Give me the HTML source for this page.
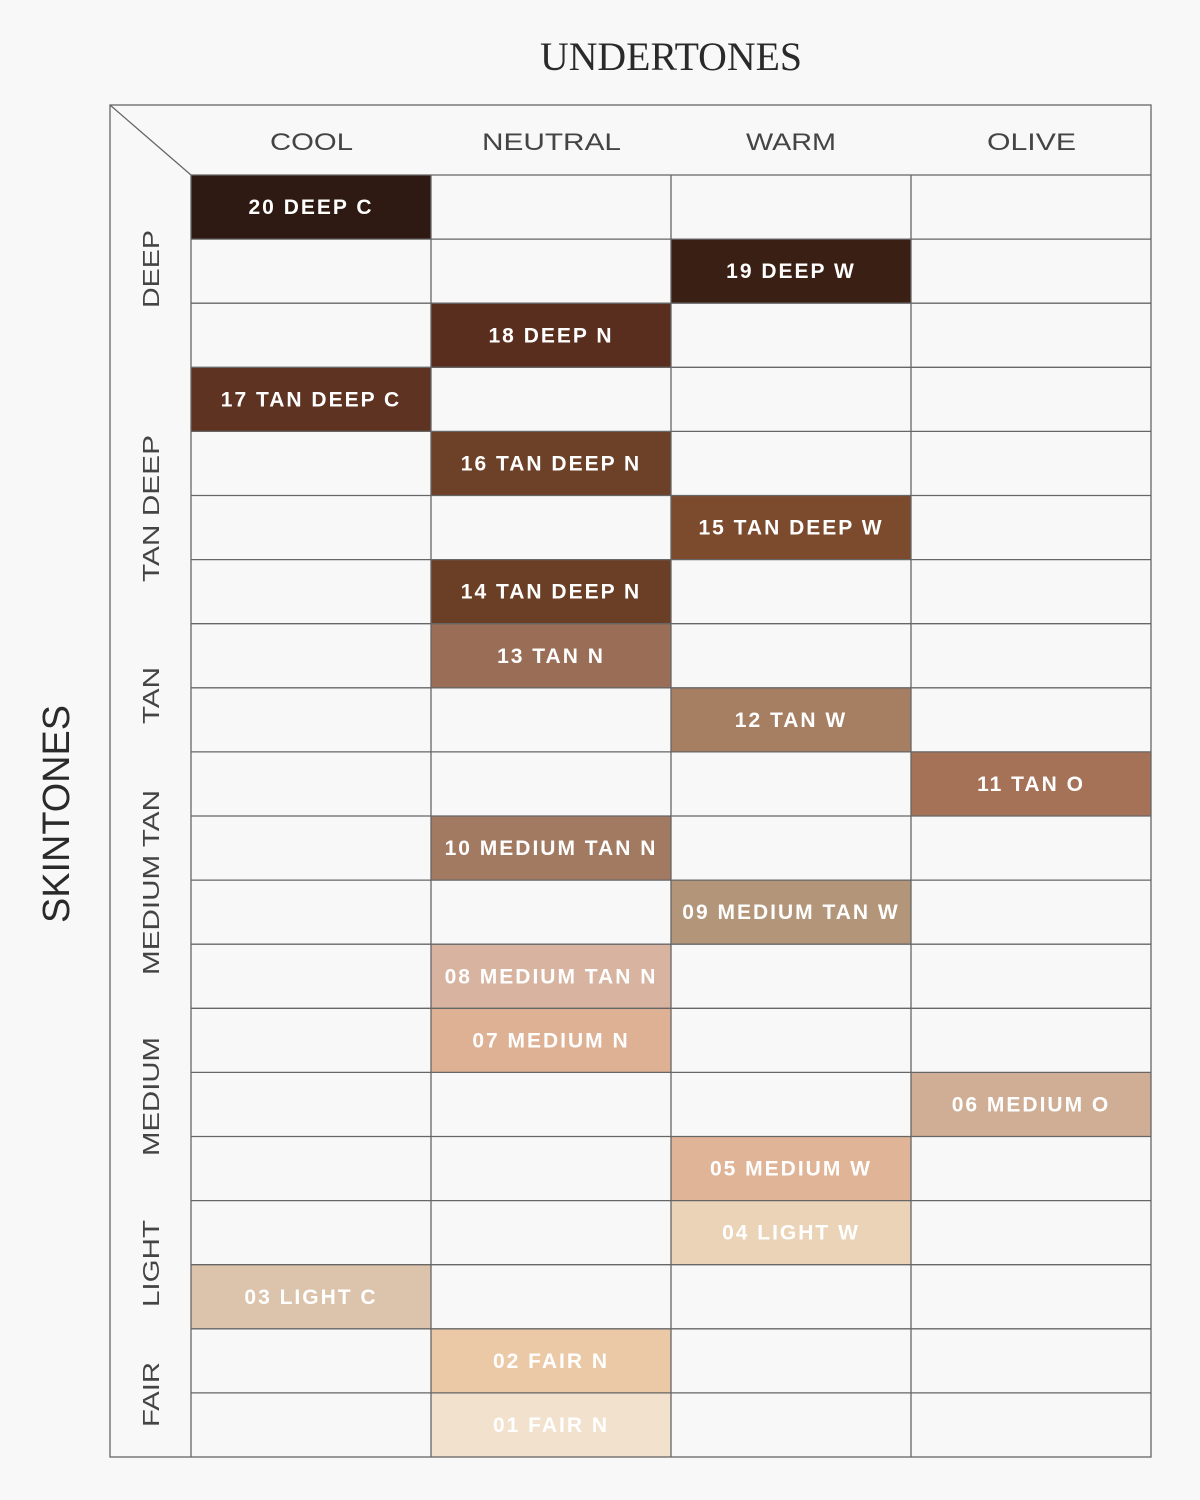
<!DOCTYPE html>
<html><head><meta charset="utf-8"><style>
html,body{margin:0;padding:0;background:#f8f8f8;}
svg{display:block}
</style></head><body>
<svg width="1200" height="1500" viewBox="0 0 1200 1500" xmlns="http://www.w3.org/2000/svg">
<rect width="1200" height="1500" fill="#f8f8f8"/>
<text x="540" y="70" textLength="262" lengthAdjust="spacingAndGlyphs" font-family="Liberation Serif, serif" font-size="40" fill="#2a2a2a">UNDERTONES</text>
<text transform="translate(69,923) rotate(-90)" textLength="218" lengthAdjust="spacingAndGlyphs" font-family="Liberation Sans, sans-serif" font-size="38" fill="#2a2a2a">SKINTONES</text>
<g font-family="Liberation Sans, sans-serif" font-size="24" fill="#444">
<text x="270" y="150" textLength="83" lengthAdjust="spacingAndGlyphs">COOL</text>
<text x="482" y="150" textLength="139" lengthAdjust="spacingAndGlyphs">NEUTRAL</text>
<text x="746" y="150" textLength="90" lengthAdjust="spacingAndGlyphs">WARM</text>
<text x="987" y="150" textLength="89" lengthAdjust="spacingAndGlyphs">OLIVE</text>
</g>
<g font-family="Liberation Sans, sans-serif" font-size="23" fill="#444">
<text transform="translate(159,308) rotate(-90)" textLength="78" lengthAdjust="spacingAndGlyphs">DEEP</text>
<text transform="translate(159,582) rotate(-90)" textLength="147" lengthAdjust="spacingAndGlyphs">TAN DEEP</text>
<text transform="translate(159,724) rotate(-90)" textLength="57" lengthAdjust="spacingAndGlyphs">TAN</text>
<text transform="translate(159,975) rotate(-90)" textLength="185" lengthAdjust="spacingAndGlyphs">MEDIUM TAN</text>
<text transform="translate(159,1156) rotate(-90)" textLength="119" lengthAdjust="spacingAndGlyphs">MEDIUM</text>
<text transform="translate(159,1307) rotate(-90)" textLength="87" lengthAdjust="spacingAndGlyphs">LIGHT</text>
<text transform="translate(159,1427) rotate(-90)" textLength="65" lengthAdjust="spacingAndGlyphs">FAIR</text>
</g>
<g id="cells"></g>
<g id="lines" stroke="#666" stroke-width="1.3" fill="none"></g>
<script>
var ys=[];for(var i=0;i<=20;i++)ys.push(175+i*64.1);
var xs=[191,431,671,911,1151];
var data=[[0,"20 DEEP C","#2e1a12"],[2,"19 DEEP W","#3a2014"],[1,"18 DEEP N","#5a2e1e"],[0,"17 TAN DEEP C","#5e3322"],[1,"16 TAN DEEP N","#6d4028"],[2,"15 TAN DEEP W","#7c4b2e"],[1,"14 TAN DEEP N","#6b3f26"],[1,"13 TAN N","#9a6e56"],[2,"12 TAN W","#a67e61"],[3,"11 TAN O","#a57257"],[1,"10 MEDIUM TAN N","#a27a61"],[2,"09 MEDIUM TAN W","#b39579"],[1,"08 MEDIUM TAN N","#d7b3a0"],[1,"07 MEDIUM N","#deb094"],[3,"06 MEDIUM O","#cfae95"],[2,"05 MEDIUM W","#e0b597"],[2,"04 LIGHT W","#ead3b7"],[0,"03 LIGHT C","#dcc3ac"],[1,"02 FAIR N","#ebc9a7"],[1,"01 FAIR N","#f2e1cd"]];
var NS="http://www.w3.org/2000/svg",g=document.getElementById("cells"),L=document.getElementById("lines");
function el(p,n,a,t){var e=document.createElementNS(NS,n);for(var k in a)e.setAttribute(k,a[k]);if(t)e.textContent=t;p.appendChild(e);return e;}
data.forEach(function(d,i){var c=d[0];el(g,"rect",{x:xs[c],y:ys[i],width:240,height:ys[i+1]-ys[i],fill:d[2]});
el(g,"text",{x:xs[c]+120,y:(ys[i]+ys[i+1])/2+7,"text-anchor":"middle","font-family":"Liberation Sans, sans-serif","font-size":"21","font-weight":"bold","letter-spacing":"2",fill:"#fff"},d[1]);});
el(L,"rect",{x:110,y:105,width:1041,height:1352});
el(L,"line",{x1:110,y1:105,x2:191,y2:175});
el(L,"line",{x1:191,y1:175,x2:1151,y2:175});
el(L,"line",{x1:191,y1:175,x2:191,y2:1457});
for(var i=1;i<20;i++)el(L,"line",{x1:191,y1:ys[i],x2:1151,y2:ys[i]});
for(var j=1;j<4;j++)el(L,"line",{x1:xs[j],y1:175,x2:xs[j],y2:1457});
</script>
</svg>
</body></html>
